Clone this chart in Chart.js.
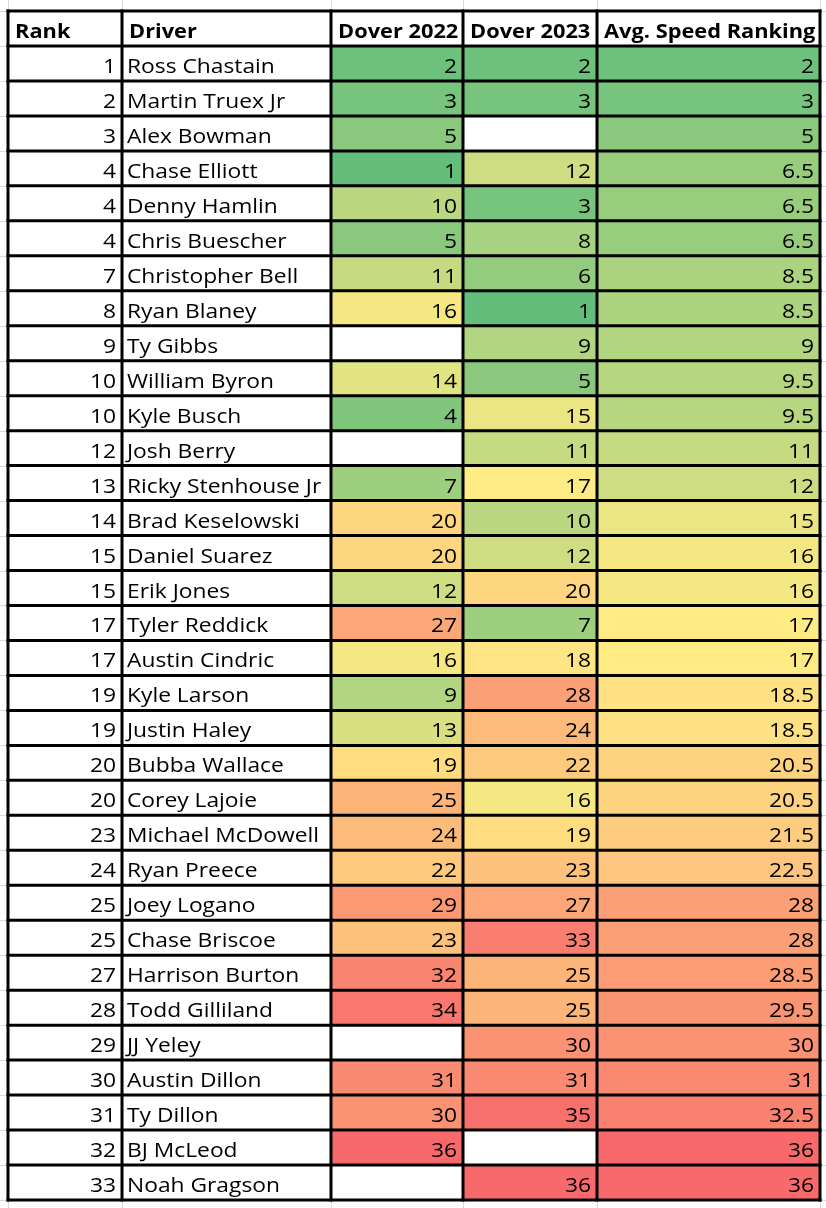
<!DOCTYPE html>
<html>
<head>
<meta charset="utf-8">
<script src="https://cdn.jsdelivr.net/npm/chart.js@4.4.1/dist/chart.umd.min.js"></script>
<style>
html,body{margin:0;padding:0;background:#fff;}
#wrap{width:826px;height:1208px;}
</style>
</head>
<body>
<div id="wrap"><canvas id="c" width="826" height="1208"></canvas></div>
<script>
const headers = ['Rank', 'Driver', 'Dover 2022', 'Dover 2023', 'Avg. Speed Ranking'];
const ranks = [1,2,3,4,4,4,7,8,9,10,10,12,13,14,15,15,17,17,19,19,20,20,23,24,25,25,27,28,29,30,31,32,33];
const drivers = ['Ross Chastain','Martin Truex Jr','Alex Bowman','Chase Elliott','Denny Hamlin','Chris Buescher','Christopher Bell','Ryan Blaney','Ty Gibbs','William Byron','Kyle Busch','Josh Berry','Ricky Stenhouse Jr','Brad Keselowski','Daniel Suarez','Erik Jones','Tyler Reddick','Austin Cindric','Kyle Larson','Justin Haley','Bubba Wallace','Corey Lajoie','Michael McDowell','Ryan Preece','Joey Logano','Chase Briscoe','Harrison Burton','Todd Gilliland','JJ Yeley','Austin Dillon','Ty Dillon','BJ McLeod','Noah Gragson'];
const dover2022 = [2,3,5,1,10,5,11,16,null,14,4,null,7,20,20,12,27,16,9,13,19,25,24,22,29,23,32,34,null,31,30,36,null];
const dover2023 = [2,3,null,12,3,8,6,1,9,5,15,11,17,10,12,20,7,18,28,24,22,16,19,23,27,33,25,25,30,31,35,null,36];
const avgSpeed = [2,3,5,6.5,6.5,6.5,8.5,8.5,9,9.5,9.5,11,12,15,16,16,17,17,18.5,18.5,20.5,20.5,21.5,22.5,28,28,28.5,29.5,30,31,32.5,36,36];

// layout (pixel units of the x scale)
const COLS = [8, 122, 331, 463, 597, 820];
const FONT = '"Open Sans", sans-serif';
const FONT_SIZE = 20;
const STRETCH = 1.14, STRETCH_BOLD = 1.09;

// Excel 3-colour scale over the three numeric columns together:
// low green, 50th percentile yellow, high red
const LOW = [99,190,123], MID = [255,235,132], HIGH = [248,105,107];
function pctInc(vals, p){
  const s = vals.filter(v => v !== null).sort((a,b)=>a-b);
  const r = p*(s.length-1), lo = Math.floor(r), hi = Math.ceil(r);
  return s[lo] + (s[hi]-s[lo])*(r-lo);
}
const allVals = [...dover2022, ...dover2023, ...avgSpeed].filter(v => v !== null);
const vMin = Math.min(...allVals), vMax = Math.max(...allVals), vMid = pctInc(allVals, 0.5);
function scaleColors(vals){
  return vals.map(v => {
    if (v === null) return '#ffffff';
    let a, b, t;
    if (v <= vMid){ a = LOW; b = MID; t = (v-vMin)/(vMid-vMin); }
    else { a = MID; b = HIGH; t = (v-vMid)/(vMax-vMid); }
    const c = a.map((x,i)=>Math.round(x+(b[i]-x)*t));
    return `rgb(${c[0]},${c[1]},${c[2]})`;
  });
}

const rowLabels = ['header', ...drivers];
const columnValues = [ranks, drivers, dover2022, dover2023, avgSpeed];
const columnColors = [
  null, null, scaleColors(dover2022), scaleColors(dover2023), scaleColors(avgSpeed)
];

const datasets = columnValues.map((vals, ci) => ({
  label: headers[ci],
  data: rowLabels.map(() => [COLS[ci], COLS[ci+1]]),
  backgroundColor: rowLabels.map((_, ri) => (ri === 0 || !columnColors[ci]) ? '#ffffff' : columnColors[ci][ri-1]),
  borderWidth: 0,
  borderSkipped: false,
  inflateAmount: 0,
  grouped: false,
  barPercentage: 1,
  categoryPercentage: 1
}));

function fmt(v){ return v === null ? '' : String(v); }
function drawText(ctx, text, x, y, align, sx){
  ctx.save();
  ctx.translate(x, y);
  ctx.scale(sx, 1);
  ctx.textAlign = align;
  ctx.fillText(text, 0, 0);
  ctx.restore();
}

const tablePlugin = {
  id: 'tablePlugin',
  beforeDatasetsDraw(chart){
    const ctx = chart.ctx, xs = chart.scales.x, ys = chart.scales.y;
    const h = ys.getPixelForValue(1) - ys.getPixelForValue(0);
    ctx.save();
    ctx.strokeStyle = '#d9d9d9';
    ctx.lineWidth = 1;
    COLS.forEach(c => {
      const x = Math.round(xs.getPixelForValue(c)) + 0.5;
      ctx.beginPath(); ctx.moveTo(x, 0); ctx.lineTo(x, chart.height); ctx.stroke();
    });
    for (let i = 0; i <= rowLabels.length; i++){
      const y = Math.round(ys.getPixelForValue(i) - h/2) + 0.5;
      ctx.beginPath(); ctx.moveTo(0, y); ctx.lineTo(chart.width, y); ctx.stroke();
    }
    ctx.restore();
  },
  afterDatasetsDraw(chart){
    const ctx = chart.ctx, xs = chart.scales.x, ys = chart.scales.y;
    const h = ys.getPixelForValue(1) - ys.getPixelForValue(0);
    ctx.save();
    ctx.fillStyle = '#000';
    ctx.textBaseline = 'alphabetic';
    rowLabels.forEach((lab, ri) => {
      const bottom = ys.getPixelForValue(ri) + h/2;
      const yb = bottom - 8;
      for (let ci = 0; ci < headers.length; ci++){
        const x0 = xs.getPixelForValue(COLS[ci]), x1 = xs.getPixelForValue(COLS[ci+1]);
        if (ri === 0){
          ctx.font = `bold ${FONT_SIZE}px ${FONT}`;
          drawText(ctx, headers[ci], x0 + 7, yb, 'left', STRETCH_BOLD);
        } else {
          const v = columnValues[ci][ri-1];
          ctx.font = `${FONT_SIZE}px ${FONT}`;
          if (ci === 1){
            drawText(ctx, fmt(v), x0 + 5, yb, 'left', STRETCH);
          } else {
            drawText(ctx, fmt(v), x1 - 6, yb, 'right', STRETCH);
          }
        }
      }
    });
    ctx.strokeStyle = '#000';
    ctx.lineWidth = 3;
    const top = ys.getPixelForValue(0) - h/2;
    const bot = ys.getPixelForValue(rowLabels.length-1) + h/2;
    COLS.forEach(c => {
      const x = xs.getPixelForValue(c);
      ctx.beginPath(); ctx.moveTo(x, top-1.5); ctx.lineTo(x, bot+1.5); ctx.stroke();
    });
    const left = xs.getPixelForValue(COLS[0]), right = xs.getPixelForValue(COLS[COLS.length-1]);
    for (let i = 0; i <= rowLabels.length; i++){
      const y = ys.getPixelForValue(i) - h/2;
      ctx.beginPath(); ctx.moveTo(left-1.5, y); ctx.lineTo(right+1.5, y); ctx.stroke();
    }
    ctx.restore();
  }
};

new Chart(document.getElementById('c'), {
  type: 'bar',
  data: { labels: rowLabels, datasets },
  options: {
    indexAxis: 'y',
    responsive: false,
    animation: false,
    devicePixelRatio: 1,
    layout: { padding: { left: 0, right: 0, top: 11, bottom: 8 } },
    scales: {
      x: { type: 'linear', min: 0, max: 826, display: false },
      y: { type: 'category', display: false, offset: true }
    },
    plugins: { legend: { display: false }, tooltip: { enabled: false } }
  },
  plugins: [tablePlugin]
});
</script>
</body>
</html>
